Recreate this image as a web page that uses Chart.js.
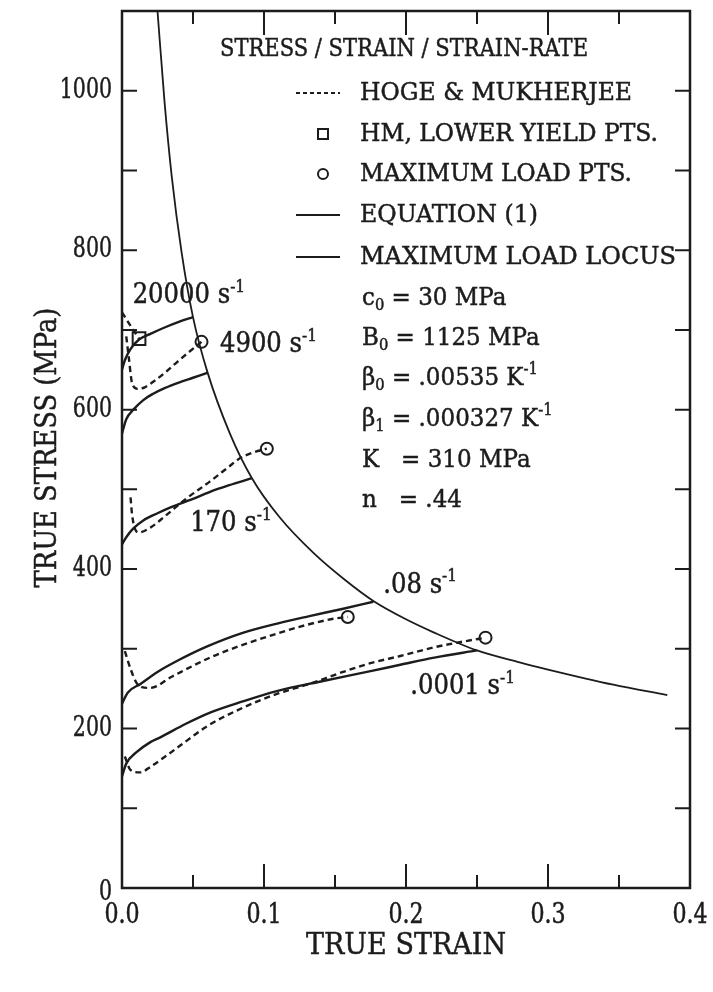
<!DOCTYPE html>
<html>
<head>
<meta charset="utf-8">
<script src="https://cdn.jsdelivr.net/npm/chart.js@4"></script>
<style>
  body { margin: 0; background: #fff; }
</style>
</head>
<body>
<canvas id="stressChart" width="713" height="992"></canvas>
<script>
// strain (x) / stress in MPa (y)
const eq20000Strain = [0, 0.002, 0.006, 0.012, 0.02, 0.03, 0.04, 0.05];
const eq20000Stress = [650, 662, 676, 688, 695, 703, 710, 716];
const hm20000Strain = [0, 0.005, 0.012];
const hm20000Stress = [722, 708, 689];

const eq4900Strain = [0, 0.003, 0.008, 0.015, 0.022, 0.03, 0.04, 0.05, 0.06];
const eq4900Stress = [570, 588, 600, 612, 620, 627, 634, 640, 646];
const hm4900Strain = [0.003, 0.005, 0.007, 0.011, 0.016, 0.022, 0.03, 0.039, 0.047, 0.056];
const hm4900Stress = [692, 662, 634, 626, 628, 635, 646, 660, 672, 685];

const eq170Strain = [0, 0.003, 0.008, 0.015, 0.025, 0.035, 0.05, 0.062, 0.075, 0.0915];
const eq170Stress = [431, 440, 451, 461, 470, 478, 488, 497, 505, 514];
const hm170Strain = [0.006, 0.007, 0.009, 0.012, 0.02, 0.03, 0.045, 0.062, 0.075, 0.083, 0.092, 0.102];
const hm170Stress = [490, 470, 451, 446, 452, 466, 488, 510, 528, 539, 546, 551];

const eq08Strain = [0, 0.004, 0.013, 0.025, 0.039, 0.06, 0.085, 0.11, 0.132, 0.155, 0.177];
const eq08Stress = [231, 245, 256, 271, 285, 303, 320, 332, 341, 350, 359];
const hm08Strain = [0.002, 0.006, 0.01, 0.014, 0.02, 0.035, 0.062, 0.085, 0.109, 0.13, 0.15, 0.159];
const hm08Stress = [297, 275, 258, 252, 251, 265, 289, 305, 319, 330, 338, 340];

const eq0001Strain = [0, 0.003, 0.01, 0.02, 0.027, 0.045, 0.062, 0.085, 0.109, 0.14, 0.175, 0.196, 0.22, 0.25];
const eq0001Stress = [140, 156, 170, 183, 189, 206, 220, 234, 247, 259, 272, 280, 289, 298];
const hm0001Strain = [0.002, 0.006, 0.013, 0.02, 0.039, 0.06, 0.085, 0.11, 0.132, 0.154, 0.175, 0.196, 0.22, 0.24, 0.256];
const hm0001Stress = [165, 148, 145, 152, 176, 203, 226, 244, 256, 270, 282, 291, 302, 309, 314];

const locusStrain = [0.025, 0.03, 0.035, 0.042, 0.05, 0.06, 0.076, 0.0915, 0.111, 0.135, 0.158, 0.177, 0.2, 0.219, 0.25, 0.28, 0.3, 0.346, 0.384];
const locusStress = [1100, 985, 893, 797, 716, 648, 570, 514, 465, 420, 385, 360, 337, 321, 298, 283, 274, 255, 242];

const maxLoadStrain = [0.056, 0.102, 0.159, 0.256];
const maxLoadStress = [685, 551, 340, 314];
const yieldStrain = [0.012];
const yieldStress = [689];

const xTickLabels = ["0.0", "0.1", "0.2", "0.3", "0.4"];
const yTickLabels = ["0", "200", "400", "600", "800", "1000"];

// rate labels anchored in data units (left edge, vertical middle)
const rateLabels = [
  { text: "20000 s", x: 0.0075, y: 742 },
  { text: "4900 s", x: 0.069, y: 681 },
  { text: "170 s", x: 0.048, y: 456 },
  { text: ".08 s", x: 0.184, y: 379 },
  { text: ".0001 s", x: 0.203, y: 252 }
];

const INK = "#1c1c1c";
const FONT = "DejaVu Serif";

function pts(xs, ys) {
  return xs.map((x, i) => ({ x: x, y: ys[i] }));
}

function font(size) {
  return size + 'px "' + FONT + '"';
}

// draws text made of normal / sub / sup pieces, squeezed horizontally by sx
// (or squeezed to fit fitW pixels when given)
function drawRich(ctx, parts, x, y, size, align, sx, fitW) {
  ctx.save();
  ctx.fillStyle = INK;
  ctx.strokeStyle = INK;
  ctx.lineWidth = 0.5;
  ctx.textBaseline = "middle";
  ctx.textAlign = "left";
  let total = 0;
  const items = parts.map(p => {
    const t = Array.isArray(p) ? p[0] : p;
    const mode = Array.isArray(p) ? p[1] : "";
    const s = mode ? Math.round(size * 0.62) : size;
    ctx.font = font(s);
    const w = ctx.measureText(t).width;
    total += w;
    return { t: t, mode: mode, s: s, w: w };
  });
  if (fitW) sx = fitW / total;
  ctx.translate(x, y);
  ctx.scale(sx, 1);
  let cx = align === "right" ? -total : align === "center" ? -total / 2 : 0;
  items.forEach(it => {
    ctx.font = font(it.s);
    const dy = it.mode === "sup" ? -size * 0.33 : it.mode === "sub" ? size * 0.3 : 0;
    ctx.fillText(it.t, cx, dy);
    ctx.strokeText(it.t, cx, dy);
    cx += it.w;
  });
  ctx.restore();
}

function lineSet(xs, ys, dashed, width) {
  return {
    data: pts(xs, ys),
    showLine: true,
    borderColor: INK,
    borderWidth: width || 2.4,
    borderDash: dashed ? [6, 4] : [],
    pointRadius: 0,
    cubicInterpolationMode: "monotone",
    fill: false
  };
}

const decorations = {
  id: "decorations",
  beforeDraw(chart) {
    const ctx = chart.ctx;
    ctx.save();
    ctx.fillStyle = "#fff";
    ctx.fillRect(0, 0, chart.width, chart.height);
    ctx.restore();
  },
  afterDraw(chart) {
    const ctx = chart.ctx;
    const ca = chart.chartArea;
    const xs = chart.scales.x;
    const ys = chart.scales.y;

    ctx.save();
    ctx.strokeStyle = INK;
    ctx.lineWidth = 2.5;
    ctx.strokeRect(ca.left, ca.top, ca.right - ca.left, ca.bottom - ca.top);

    // inward ticks
    ctx.lineWidth = 2;
    ctx.beginPath();
    for (let i = 1; i < 8; i++) {
      const px = xs.getPixelForValue(i * 0.05);
      const len = i % 2 === 0 ? 24 : 13;
      ctx.moveTo(px, ca.bottom);
      ctx.lineTo(px, ca.bottom - len);
      ctx.moveTo(px, ca.top);
      ctx.lineTo(px, ca.top + len);
    }
    for (let v = 100; v <= 1000; v += 100) {
      const py = ys.getPixelForValue(v);
      ctx.moveTo(ca.left, py);
      ctx.lineTo(ca.left + 15, py);
      ctx.moveTo(ca.right, py);
      ctx.lineTo(ca.right - 15, py);
    }
    ctx.stroke();
    ctx.restore();

    // tick labels
    xTickLabels.forEach(t => {
      drawRich(ctx, [t], xs.getPixelForValue(parseFloat(t)), ca.bottom + 28, 27, "center", 0.82);
    });
    yTickLabels.forEach(t => {
      const v = parseFloat(t);
      drawRich(ctx, [t], ca.left - 10, ys.getPixelForValue(v) + (v === 0 ? 5 : 0), 27, "right", 0.76);
    });

    // axis titles
    drawRich(ctx, ["TRUE STRAIN"], (ca.left + ca.right) / 2, ca.bottom + 58, 30, "center", 0.9);
    ctx.save();
    ctx.translate(ca.left - 74, (ca.top + ca.bottom) / 2 - 2);
    ctx.rotate(-Math.PI / 2);
    drawRich(ctx, ["TRUE STRESS (MPa)"], 0, 0, 30, "center", 0.86);
    ctx.restore();

    // strain-rate labels
    rateLabels.forEach(l => {
      drawRich(ctx, [l.text, ["-1", "sup"]], xs.getPixelForValue(l.x), ys.getPixelForValue(l.y), 27, "left", 0.9);
    });

    // legend block
    const lx = ca.left;
    const ly = ca.top;
    drawRich(ctx, ["STRESS / STRAIN / STRAIN-RATE"], lx + 98, ly + 39, 24, "left", 1, 368);
    const rows = [
      { y: 82, kind: "dash", text: "HOGE & MUKHERJEE", w: 272 },
      { y: 123, kind: "square", text: "HM, LOWER YIELD PTS.", w: 298 },
      { y: 163, kind: "circle", text: "MAXIMUM LOAD PTS.", w: 272 },
      { y: 204, kind: "line", text: "EQUATION (1)", w: 178 },
      { y: 246, kind: "line", text: "MAXIMUM LOAD LOCUS", w: 316 }
    ];
    ctx.save();
    ctx.strokeStyle = INK;
    ctx.lineWidth = 2;
    rows.forEach(r => {
      const cy = ly + r.y;
      ctx.beginPath();
      if (r.kind === "dash" || r.kind === "line") {
        ctx.setLineDash(r.kind === "dash" ? [4, 3] : []);
        ctx.moveTo(lx + 174, cy);
        ctx.lineTo(lx + 218, cy);
      } else if (r.kind === "square") {
        ctx.setLineDash([]);
        ctx.rect(lx + 196, cy - 5, 10, 10);
      } else {
        ctx.setLineDash([]);
        ctx.arc(lx + 201, cy, 5, 0, Math.PI * 2);
      }
      ctx.stroke();
      ctx.setLineDash([]);
      drawRich(ctx, [r.text], lx + 238, cy, 25, "left", 1, r.w);
    });
    ctx.restore();

    const params = [
      { y: 287, parts: ["c", ["0", "sub"], " = 30 MPa"] },
      { y: 327, parts: ["B", ["0", "sub"], " = 1125 MPa"] },
      { y: 367, parts: ["\u03b2", ["0", "sub"], " = .00535 K", ["-1", "sup"]] },
      { y: 408, parts: ["\u03b2", ["1", "sub"], " = .000327 K", ["-1", "sup"]] },
      { y: 449, parts: ["K   = 310 MPa"] },
      { y: 489, parts: ["n   = .44"] }
    ];
    params.forEach(p => drawRich(ctx, p.parts, lx + 240, ly + p.y, 25, "left", 0.92));
  }
};

new Chart(document.getElementById("stressChart"), {
  type: "scatter",
  data: {
    datasets: [
      lineSet(eq20000Strain, eq20000Stress, false),
      lineSet(hm20000Strain, hm20000Stress, true),
      lineSet(eq4900Strain, eq4900Stress, false),
      lineSet(hm4900Strain, hm4900Stress, true),
      lineSet(eq170Strain, eq170Stress, false),
      lineSet(hm170Strain, hm170Stress, true),
      lineSet(eq08Strain, eq08Stress, false),
      lineSet(hm08Strain, hm08Stress, true),
      lineSet(eq0001Strain, eq0001Stress, false),
      lineSet(hm0001Strain, hm0001Stress, true),
      lineSet(locusStrain, locusStress, false, 1.8),
      {
        data: pts(maxLoadStrain, maxLoadStress),
        pointStyle: "circle",
        pointRadius: 6,
        borderWidth: 2,
        borderColor: INK,
        backgroundColor: "#fff"
      },
      {
        data: pts(yieldStrain, yieldStress),
        pointStyle: "rect",
        pointRadius: 9,
        borderWidth: 2,
        borderColor: INK,
        backgroundColor: "#fff"
      }
    ]
  },
  options: {
    responsive: false,
    devicePixelRatio: 1,
    animation: false,
    layout: { padding: { top: 6, right: 23, left: 0, bottom: 0 } },
    plugins: { legend: { display: false }, tooltip: { enabled: false } },
    scales: {
      x: {
        type: "linear",
        min: 0,
        max: 0.4,
        grid: { display: false },
        border: { display: false },
        ticks: { display: false, stepSize: 0.05 },
        afterFit: s => { s.height = 104; }
      },
      y: {
        type: "linear",
        min: 0,
        max: 1100,
        grid: { display: false },
        border: { display: false },
        ticks: { display: false, stepSize: 100 },
        afterFit: s => { s.width = 122; }
      }
    }
  },
  plugins: [decorations]
});
</script>
</body>
</html>
